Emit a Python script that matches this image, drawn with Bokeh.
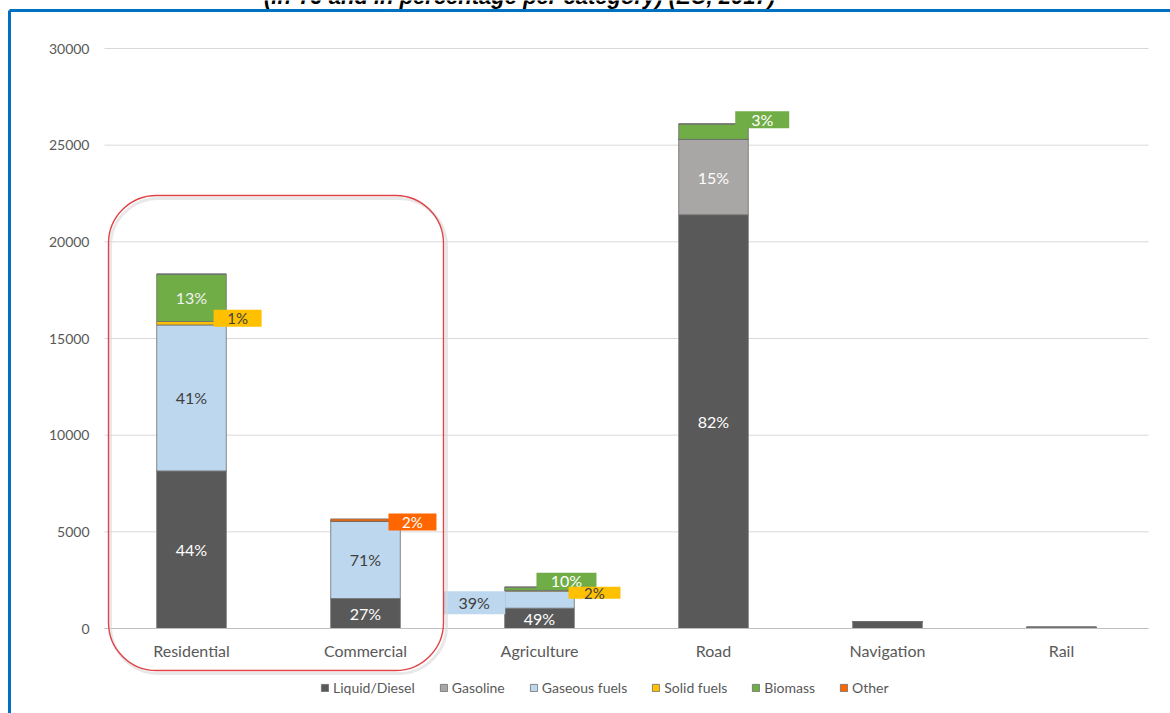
from bokeh.plotting import figure
from bokeh.models import (ColumnDataSource, Range1d, FixedTicker,
                          BoxAnnotation, Label, Legend, LegendItem)
from bokeh.core.properties import value
from bokeh.embed import file_html
from bokeh.resources import INLINE

# ---------------- data ----------------
categories = ["Residential", "Commercial", "Agriculture", "Road", "Navigation", "Rail"]
series = ["Liquid/Diesel", "Gasoline", "Gaseous fuels", "Solid fuels", "Biomass", "Other"]
liquid = [8150, 1550, 1050, 21400, 360, 60]
gasoline = [0, 0, 0, 3900, 0, 0]
gaseous = [7550, 4000, 880, 0, 0, 0]
solid = [180, 0, 40, 0, 0, 0]
biomass = [2450, 0, 170, 800, 0, 0]
other = [0, 120, 0, 0, 0, 0]

pct_liquid = ["44%", "27%", "49%", "82%", "", ""]
pct_gasoline = ["", "", "", "15%", "", ""]
pct_gaseous = ["41%", "71%", "39%", "", "", ""]
pct_solid = ["1%", "", "2%", "", "", ""]
pct_biomass = ["13%", "", "10%", "3%", "", ""]
pct_other = ["", "2%", "", "", "", ""]

title_text = "(in TJ and in percentage per category) (EU, 2017)"
y_ticks = [0, 5000, 10000, 15000, 20000, 25000, 30000]

# ---------------- styles ----------------
keys = ["liquid", "gasoline", "gaseous", "solid", "biomass", "other"]
values = [liquid, gasoline, gaseous, solid, biomass, other]
pcts = [pct_liquid, pct_gasoline, pct_gaseous, pct_solid, pct_biomass, pct_other]
colors = ["#595959", "#A9A6A6", "#BDD7EE", "#FFC000", "#70AD47", "#FF6600"]
inside_text_colors = ["#FFFFFF", "#FFFFFF", "#404040", "#404040", "#F2F2F2", "#FFFFFF"]
FONT = "Lato"

W, H = 1170, 713
FL, FR, FT, FB = 104, 1148, 48, 628          # plot-area edges in page pixels
Y0, Y1 = 0, 30000
PX = (Y1 - Y0) / float(FB - FT)              # data units per pixel (vertical)
NC = len(categories)
CAT_PX = (FR - FL) / float(NC)               # pixels per category


def sx(px):  # page x pixel -> x data coordinate
    return (px - FL) / CAT_PX


def sy(py):  # page y pixel -> y data coordinate
    return (FB - py) * PX


xpos = [i + 0.5 for i in range(NC)]

# callouts: (category, series index, x shift, dy px, box w, box h, text colour, font size)
callouts = [
    ("Residential", 3, 0.265, 5, 48, 17, "#404040", "15px"),
    ("Commercial", 5, 0.27, -2, 48, 17, "#FFFFFF", "15px"),
    ("Agriculture", 2, -0.375, -3, 62, 23, "#404040", "16px"),
    ("Agriculture", 4, 0.155, 8, 60, 16, "#FFFFFF", "16px"),
    ("Agriculture", 3, 0.316, -2, 52, 12, "#404040", "15px"),
    ("Road", 4, 0.28, 12, 54, 17, "#FFFFFF", "16px"),
]

data = {"x": xpos, "cat": categories}
for k, v in zip(keys, values):
    data[k] = v
src = ColumnDataSource(data)

p = figure(x_range=Range1d(sx(0), sx(W)), y_range=Range1d(sy(H), sy(0)),
           width=W, height=H, output_backend="svg", toolbar_location=None,
           min_border=0)
p.outline_line_color = None
p.background_fill_color = "white"
p.border_fill_color = "white"
p.xgrid.visible = False
p.ygrid.visible = False

# gridlines across the category span
p.segment(x0=[0] * len(y_ticks), x1=[NC] * len(y_ticks), y0=y_ticks, y1=y_ticks,
          line_color="#D9D9D9", line_width=1)

renderers = p.vbar_stack(keys, x="x", width=0.40, source=src, color=colors,
                         line_color="#6E6E6E", line_width=0.8)

# axes placed inside the canvas
p.yaxis.fixed_location = 0
p.yaxis.ticker = FixedTicker(ticks=y_ticks)
p.yaxis.bounds = (Y0, Y1)
p.yaxis.axis_line_color = None
p.yaxis.major_tick_line_color = None
p.yaxis.minor_tick_line_color = None
p.yaxis.major_tick_out = 0
p.yaxis.major_tick_in = 0
p.yaxis.major_label_text_font = FONT
p.yaxis.major_label_text_font_size = "14px"
p.yaxis.major_label_text_color = "#595959"
p.yaxis.major_label_standoff = 15

p.xaxis.fixed_location = 0
p.xaxis.ticker = FixedTicker(ticks=xpos)
p.xaxis.major_label_overrides = {x: c for x, c in zip(xpos, categories)}
p.xaxis.bounds = (0, NC)
p.xaxis.axis_line_color = "#BFBFBF"
p.xaxis.axis_line_width = 1.2
p.xaxis.major_tick_line_color = None
p.xaxis.minor_tick_line_color = None
p.xaxis.major_tick_out = 0
p.xaxis.major_tick_in = 0
p.xaxis.major_label_text_font = FONT
p.xaxis.major_label_text_font_size = "16px"
p.xaxis.major_label_text_color = "#595959"
p.xaxis.major_label_standoff = 12

# inside labels
callout_set = {(c, s) for c, s, *_ in callouts}
bottoms = [0] * NC
centers = []
for si, vals in enumerate(values):
    centers.append([b + v / 2.0 for b, v in zip(bottoms, vals)])
    bottoms = [b + v for b, v in zip(bottoms, vals)]

for si in range(len(keys)):
    xs, ys, ts = [], [], []
    for ci, cat in enumerate(categories):
        t = pcts[si][ci]
        if t and (cat, si) not in callout_set:
            xs.append(xpos[ci])
            ys.append(centers[si][ci])
            ts.append(t)
    if xs:
        p.text(x=xs, y=ys, text=ts, text_align="center", text_baseline="middle",
               text_font=value(FONT), text_font_size="16px",
               text_color=inside_text_colors[si])

# callouts
for cat, si, dx, dy, w, h, tc, fs in callouts:
    ci = categories.index(cat)
    cx = xpos[ci] + dx
    cy = centers[si][ci] + dy * PX
    p.rect(x=[cx], y=[cy], width=w, height=h, width_units="screen",
           height_units="screen", fill_color=colors[si], line_color=None)
    p.text(x=[cx], y=[cy], text=[pcts[si][ci]], text_align="center",
           text_baseline="middle", text_font=value(FONT), text_font_size=fs,
           text_color=tc)

# red highlight box around residential & commercial
shadow = BoxAnnotation(left=sx(110), right=sx(446), top=sy(198), bottom=sy(673),
                       fill_alpha=0, line_color="#D8D8D8", line_alpha=0.6,
                       line_width=3, border_radius=48)
p.add_layout(shadow)
box = BoxAnnotation(left=sx(108), right=sx(443), top=sy(195), bottom=sy(670),
                    fill_alpha=0, line_color="#E04347", line_alpha=1.0,
                    line_width=1.4, border_radius=48)
p.add_layout(box)

# blue frame (top and left edges of the slide box)
p.segment(x0=[sx(9), sx(9)], y0=[sy(10), sy(10)], x1=[sx(W), sx(9)],
          y1=[sy(10), sy(H)], line_color="#0070C0", line_width=3)

# title, cut by the top of the page as in the source
title = Label(x=sx(519), y=sy(-4), text=title_text,
              text_align="center", text_baseline="alphabetic",
              text_font="Liberation Sans", text_font_style="bold italic",
              text_font_size="22px", text_color="#000000")
p.add_layout(title)

# legend
items = [LegendItem(label=s, renderers=[r]) for s, r in zip(series, renderers)]
legend = Legend(items=items, orientation="horizontal", location=(320, 17),
                label_text_font=FONT, label_text_font_size="14px",
                label_text_color="#595959", glyph_width=9, glyph_height=9,
                spacing=24, label_standoff=4, border_line_color=None,
                background_fill_alpha=0, margin=0, padding=4)
p.add_layout(legend, "center")

open("out.html", "w").write(file_html(p, INLINE))
